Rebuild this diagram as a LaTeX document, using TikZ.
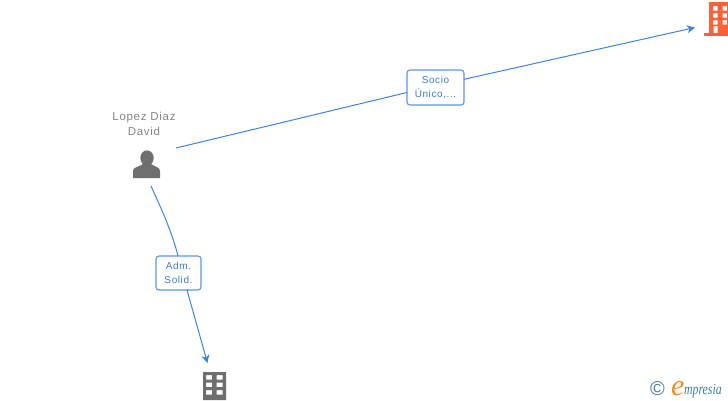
\documentclass[tikz,border=0pt]{standalone}
\usepackage{fontspec}
\setmainfont[LetterSpace=6]{Liberation Sans}
\newfontfamily\logofont{Liberation Serif}
\usetikzlibrary{arrows.meta}
\definecolor{linkblue}{HTML}{3F83E0}
\definecolor{boxblue}{HTML}{5B96E6}
\definecolor{labelblue}{HTML}{3F7BD0}
\definecolor{icongrey}{HTML}{6F6F6F}
\definecolor{textgrey}{HTML}{858585}
\definecolor{iconorange}{HTML}{FF6135}
\definecolor{logoteal}{HTML}{3F7F95}
\definecolor{logoorange}{HTML}{F28C1E}
\tikzset{
  px/.style={x=1pt,y=-1pt},
  linkline/.style={draw=linkblue,line width=1pt},
  linkarrow/.style={linkline,-{Stealth[length=8pt,width=8pt,inset=2.5pt]}},
  rolebox/.style={draw=boxblue,line width=1.1pt,fill=white,rounded corners=3pt,inner sep=0pt,
    text=labelblue,font=\fontsize{10}{14.6}\selectfont,align=center},
  personlabel/.style={text=textgrey,font=\fontsize{11.5}{15.5}\selectfont,align=center,inner sep=0pt},
  logotext/.style={inner sep=0pt,anchor=base west},
}
\newcommand{\bldg}[3]{% x y colour
  \begin{scope}[shift={(#1,#2)}]
    \fill[#3,even odd rule] (0,0) rectangle (23,28)
      (3,3) rectangle (9,7.7) (13.5,3) rectangle (19.5,7.7)
      (3,10.5) rectangle (9,15.2) (13.5,10.5) rectangle (19.5,15.2)
      (3,18) rectangle (9,22.7) (13.5,18) rectangle (19.5,22.7);
  \end{scope}}
\begin{document}
\begin{tikzpicture}[px]
\useasboundingbox (0,0) rectangle (728,400);
% person icon
\fill[icongrey] (147,158) ellipse (6.7 and 7.6);
\fill[icongrey] (133,178) -- (133,171) .. controls (133,167) and (139,167) .. (143,164)
  -- (151,164) .. controls (155,167) and (160,167) .. (160,171) -- (160,178) -- cycle;
\node[personlabel] (person) at (144,124) {Lopez Diaz\\David};
% orange company, top right
\fill[iconorange,even odd rule] (709,2) rectangle (728,33)
  (713,6) rectangle (717.5,10.5) (722.5,6) rectangle (727,10.5)
  (713,13) rectangle (717.5,17.5) (722.5,13) rectangle (727,17.5)
  (713,20) rectangle (717.5,24.5) (722.5,20) rectangle (727,24.5)
  (713.5,26) rectangle (717.5,33);
\fill[iconorange] (704,33) rectangle (728,36);
% grey company, bottom
\bldg{203}{372}{icongrey}
% anchors
\coordinate (from1) at (176,148);
\coordinate (to1) at (695,27.5);
\coordinate (from2) at (151,186);
\coordinate (to2) at (207.5,363);
\coordinate (s1) at (407,92.5);
\coordinate (s2) at (464,79.3);
\coordinate (a1) at (178,256);
\coordinate (a2) at (187,290);
% role boxes
\node[rolebox,minimum width=57pt,minimum height=35pt] (socio) at (435.5,87.5) {Socio\\Único,...};
\node[rolebox,minimum width=45pt,minimum height=34pt] (adm) at (178.5,273) {Adm.\\Solid.};
% connectors
\draw[linkline] (from1) -- (s1);
\draw[linkarrow] (s2) -- (to1);
\draw[linkline] (from2) .. controls (161,208) and (172,232) .. (a1);
\draw[linkarrow] (a2) -- (to2);
% logo
\node[inner sep=0pt,text=logoteal,font=\fontsize{20}{20}\selectfont] (copy) at (657.5,389) {\char"00A9};
\node[logotext,text=logoorange,font=\logofont\itshape\fontsize{30}{30}\selectfont] (elogo) at (671,395) {e};
\node[logotext,text=logoteal,xscale=.76,font=\logofont\itshape\fontsize{15.5}{16}\selectfont] (brand) at (684,394) {mpresia};
\end{tikzpicture}
\end{document}
